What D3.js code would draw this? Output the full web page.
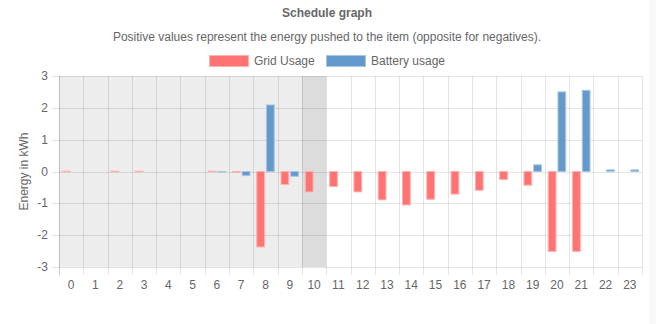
<!DOCTYPE html>
<html>
<head>
<meta charset="utf-8">
<script src="https://cdn.jsdelivr.net/npm/d3@7"></script>
<style>
  html, body { margin: 0; padding: 0; background: #fff; }
  body { width: 656px; height: 324px; overflow: hidden; position: relative; }
  #strip { position: absolute; right: 0; top: 0; width: 7px; height: 324px; background: #f8f8f8; }
  text { font-family: "Liberation Sans", Arial, Helvetica, sans-serif; fill: #666; }
</style>
</head>
<body>
<svg id="chart" width="649" height="324"></svg>
<div id="strip"></div>
<script>
const hours = d3.range(24).map(String);
const gridUsage = [0.01, 0, 0.01, 0.01, 0, 0, 0.01, -0.03, -2.37, -0.41, -0.64, -0.47, -0.64, -0.89, -1.05, -0.87, -0.71, -0.59, -0.25, -0.43, -2.51, -2.51, 0, 0];
const batteryUsage = [0, 0, 0, 0, 0, 0, -0.01, -0.13, 2.09, -0.15, 0, 0, 0, 0, 0, 0, 0, 0, 0, 0.21, 2.5, 2.55, 0.05, 0.05];
const yTicks = [-3, -2, -1, 0, 1, 2, 3];
const pastHours = d3.range(0, 10).map(String);
const currentHour = "10";

const series = [
  { name: "Grid Usage", values: gridUsage, fill: "#ff7373", stroke: "#ffb0b0" },
  { name: "Battery usage", values: batteryUsage, fill: "#6399cc", stroke: "#a8c5e3" }
];

const margin = { top: 76, right: 7, bottom: 57, left: 59 },
  width = 649 - margin.left - margin.right,
  height = 324 - margin.top - margin.bottom;

const svg = d3.select("#chart");

// Titles
svg.append("text")
  .attr("x", 327).attr("y", 17)
  .attr("text-anchor", "middle")
  .style("font-size", "12px").style("font-weight", "bold")
  .text("Schedule graph");

svg.append("text")
  .attr("x", 327).attr("y", 41)
  .attr("text-anchor", "middle")
  .style("font-size", "12px")
  .text("Positive values represent the energy pushed to the item (opposite for negatives).");

// Legend
const legend = svg.append("g");
const legendX = [209, 326];
series.forEach((s, i) => {
  const g = legend.append("g").attr("transform", `translate(${legendX[i]},55)`);
  g.append("rect")
    .attr("x", 0.5).attr("y", 0.5)
    .attr("width", 39).attr("height", 11)
    .attr("fill", s.fill).attr("stroke", s.stroke);
  g.append("text")
    .attr("x", 45).attr("y", 10)
    .style("font-size", "12px")
    .text(s.name);
});

const chart = svg.append("g")
  .attr("transform", `translate(${margin.left},${margin.top})`);

const x0 = d3.scaleBand()
  .domain(hours)
  .range([0, width]);

const x1 = d3.scaleBand()
  .domain(series.map(s => s.name))
  .range([x0.bandwidth() * 0.1, x0.bandwidth() * 0.9])
  .paddingInner(0.1)
  .paddingOuter(0.05);

const y = d3.scaleLinear()
  .domain([-3, 3])
  .range([height, 0]);

// Shaded hours
chart.selectAll(".past")
  .data(pastHours)
  .enter()
  .append("rect")
  .attr("class", "past")
  .attr("x", d => x0(d))
  .attr("y", 0)
  .attr("width", x0.bandwidth() + 0.5)
  .attr("height", height)
  .attr("fill", "#ededed");

chart.append("rect")
  .attr("x", x0(currentHour))
  .attr("y", 0)
  .attr("width", x0.bandwidth())
  .attr("height", height)
  .attr("fill", "#dcdcdc");

// Horizontal grid
chart.append("g")
  .selectAll("line")
  .data(yTicks)
  .enter()
  .append("line")
  .attr("x1", -7).attr("x2", width)
  .attr("y1", d => Math.round(y(d)) + 0.5)
  .attr("y2", d => Math.round(y(d)) + 0.5)
  .attr("stroke", "rgba(0,0,0,0.1)");

// Vertical grid at category edges
const edges = hours.map(h => x0(h)).concat([width]);
chart.append("g")
  .selectAll("line")
  .data(edges)
  .enter()
  .append("line")
  .attr("x1", d => Math.round(d) + 0.5)
  .attr("x2", d => Math.round(d) + 0.5)
  .attr("y1", 0).attr("y2", height + 8)
  .attr("stroke", (d, i) => i === 0 ? "rgba(0,0,0,0.2)" : "rgba(0,0,0,0.1)");

// Y axis labels
chart.append("g")
  .selectAll("text")
  .data(yTicks)
  .enter()
  .append("text")
  .attr("x", -11)
  .attr("y", d => y(d) + 4)
  .attr("text-anchor", "end")
  .style("font-size", "12px")
  .text(d => d);

// X axis labels
chart.append("g")
  .selectAll("text")
  .data(hours)
  .enter()
  .append("text")
  .attr("x", d => x0(d) + x0.bandwidth() / 2)
  .attr("y", height + 22)
  .attr("text-anchor", "middle")
  .style("font-size", "12px")
  .text(d => d);

// Y axis title
svg.append("text")
  .attr("transform", `translate(28,${margin.top + height / 2}) rotate(-90)`)
  .attr("text-anchor", "middle")
  .style("font-size", "12px")
  .text("Energy in kWh");

// Bars
const barGroups = chart.selectAll(".barGroup")
  .data(hours)
  .enter()
  .append("g")
  .attr("class", "barGroup")
  .attr("transform", d => `translate(${x0(d)},0)`);

barGroups.selectAll("rect")
  .data((d, i) => series.map(s => ({ s, value: s.values[i] })))
  .enter()
  .filter(d => d.value !== 0)
  .append("rect")
  .attr("x", d => x1(d.s.name) + 0.5)
  .attr("y", d => Math.min(y(d.value), y(0)))
  .attr("width", x1.bandwidth() - 1)
  .attr("height", d => Math.max(Math.abs(y(d.value) - y(0)), 0.5))
  .attr("fill", d => d.s.fill)
  .attr("stroke", d => d.s.stroke)
  .attr("stroke-width", 1);
</script>
</body>
</html>
